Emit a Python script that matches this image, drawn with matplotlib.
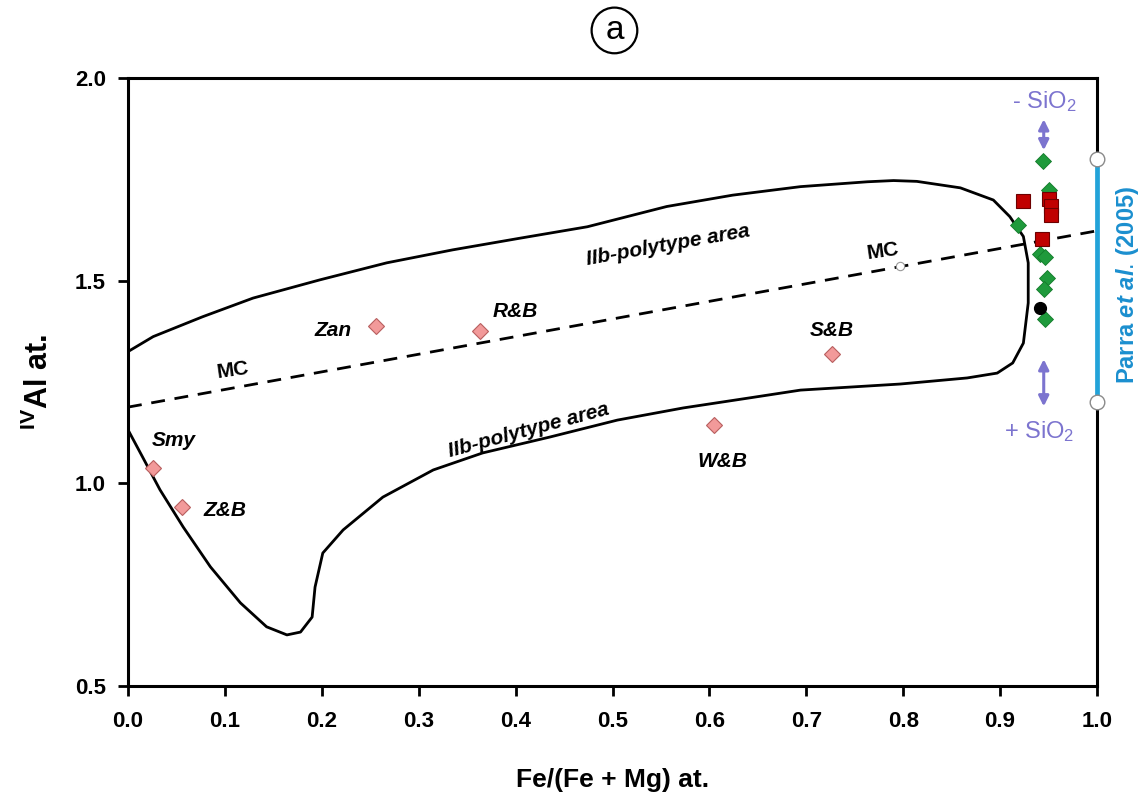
import numpy as np
import matplotlib
matplotlib.use("Agg")
import matplotlib.pyplot as plt

plt.rcParams["font.family"] = ["Liberation Sans", "DejaVu Sans"]
plt.rcParams["mathtext.fontset"] = "custom"
plt.rcParams["mathtext.rm"] = "Liberation Sans"
plt.rcParams["mathtext.bf"] = "Liberation Sans:bold"
plt.rcParams["mathtext.it"] = "Liberation Sans:bold:italic"

# IIb-polytype envelope (closed outline)
env_x = [0.0, 0.026, 0.077, 0.129, 0.198, 0.267, 0.335, 0.405, 0.474, 0.556,
         0.624, 0.694, 0.763, 0.790, 0.814, 0.859, 0.893, 0.910, 0.924, 0.929,
         0.929, 0.924, 0.913, 0.897, 0.866, 0.797, 0.694, 0.642, 0.573, 0.505,
         0.435, 0.366, 0.315, 0.263, 0.222, 0.201, 0.193, 0.190, 0.178, 0.164,
         0.143, 0.116, 0.085, 0.057, 0.033, 0.015, 0.0, 0.0]
env_y = [1.325, 1.362, 1.411, 1.457, 1.502, 1.544, 1.576, 1.605, 1.633, 1.683,
         1.711, 1.732, 1.744, 1.747, 1.745, 1.729, 1.699, 1.658, 1.609, 1.544,
         1.445, 1.346, 1.297, 1.272, 1.260, 1.245, 1.230, 1.211, 1.186, 1.156,
         1.114, 1.075, 1.033, 0.966, 0.885, 0.828, 0.744, 0.670, 0.633, 0.626,
         0.646, 0.705, 0.794, 0.892, 0.984, 1.065, 1.132, 1.325]

# MC line
mc_x = [0.0, 1.0]
mc_y = [1.188, 1.623]
mc_point = (0.797, 1.536)

# literature points
lit_names = ["Smy", "Z&B", "Zan", "R&B", "S&B", "W&B"]
lit_x = [0.026, 0.056, 0.256, 0.363, 0.726, 0.605]
lit_y = [1.038, 0.942, 1.388, 1.376, 1.319, 1.144]
lit_lab_x = [0.047, 0.100, 0.212, 0.400, 0.726, 0.613]
lit_lab_y = [1.106, 0.932, 1.376, 1.425, 1.376, 1.053]

# this study
green_x = [0.944, 0.950, 0.918, 0.941, 0.946, 0.948, 0.945, 0.946]
green_y = [1.795, 1.724, 1.637, 1.566, 1.559, 1.506, 1.480, 1.405]
red_x = [0.924, 0.950, 0.953, 0.953, 0.943]
red_y = [1.697, 1.702, 1.683, 1.662, 1.602]
black_x = [0.941]
black_y = [1.432]

# Parra et al. (2005) range
parra_x = [1.0, 1.0]
parra_y = [1.2, 1.8]

fig = plt.figure(figsize=(11.4, 8.01), dpi=100)
ax = fig.add_axes([0.1123, 0.1436, 0.8500, 0.7590])

ax.plot(env_x, env_y, color="black", lw=2.0, zorder=2, solid_joinstyle="round")
ax.plot(mc_x, mc_y, color="black", lw=2.0, dashes=(5, 3.5), zorder=2)
ax.plot(*mc_point, marker="o", ms=6, mfc="white", mec="#999999", mew=0.8, ls="none", zorder=3)

ax.plot(lit_x, lit_y, ls="none", marker="D", ms=8.5, mfc="#f29a9a", mec="#b85f5f", mew=0.8, zorder=4)
for name, lx, ly in zip(lit_names, lit_lab_x, lit_lab_y):
    ax.text(lx, ly, name, fontsize=15, fontweight="bold", fontstyle="italic",
            ha="center", va="center", zorder=5)

ax.plot(green_x, green_y, ls="none", marker="D", ms=8.5, mfc="#1f9a3c", mec="#137a2a", mew=0.6, zorder=4)
ax.plot(red_x, red_y, ls="none", marker="s", ms=10, mfc="#c00000", mec="#6d0000", mew=0.8, zorder=5)
ax.plot(black_x, black_y, ls="none", marker="o", ms=8.5, mfc="black", mec="black", zorder=5)

ax.plot(parra_x, parra_y, color="#22a3d9", lw=3.4, clip_on=False, zorder=6,
        solid_capstyle="butt")
ax.plot(parra_x, parra_y, ls="none", marker="o", ms=10.5, mfc="white", mec="#8a8a8a",
        mew=1.0, clip_on=False, zorder=7)
ax.text(1.031, 1.49, r"Parra $\mathit{et\ al.}\,$(2005)", rotation=90, color="#1b8fcf",
        fontsize=17, fontweight="bold", ha="center", va="center", clip_on=False)

# SiO2 arrows
purple = "#7c74cf"
ax.annotate("", xy=(0.945, 1.815), xytext=(0.945, 1.905),
            arrowprops=dict(arrowstyle="<|-|>", color=purple, lw=2.2, mutation_scale=15))
ax.annotate("", xy=(0.945, 1.183), xytext=(0.945, 1.313),
            arrowprops=dict(arrowstyle="<|-|>", color=purple, lw=2.2, mutation_scale=15))
ax.text(0.945, 1.942, "- SiO$_2$", color=purple, fontsize=17, ha="center", va="center")
ax.text(0.940, 1.128, "+ SiO$_2$", color=purple, fontsize=17, ha="center", va="center")

# region labels
ax.text(0.557, 1.588, "IIb-polytype area", fontsize=15, fontweight="bold", fontstyle="italic",
        rotation=10, ha="center", va="center")
ax.text(0.413, 1.130, "IIb-polytype area", fontsize=15, fontweight="bold", fontstyle="italic",
        rotation=15, ha="center", va="center")
ax.text(0.108, 1.28, "MC", fontsize=15, fontweight="bold", rotation=8, ha="center", va="center")
ax.text(0.779, 1.573, "MC", fontsize=15, fontweight="bold", rotation=8, ha="center", va="center")

ax.set_xlim(0, 1.0)
ax.set_ylim(0.5, 2.0)
ax.set_xticks(np.arange(0, 1.01, 0.1))
ax.set_yticks([0.5, 1.0, 1.5, 2.0])
ax.xaxis.set_major_formatter(matplotlib.ticker.FormatStrFormatter("%.1f"))
ax.yaxis.set_major_formatter(matplotlib.ticker.FormatStrFormatter("%.1f"))
ax.tick_params(direction="out", length=7, width=2.0, labelsize=16)
ax.tick_params(axis="x", pad=11)
ax.tick_params(axis="y", pad=9)
for lab in ax.get_xticklabels() + ax.get_yticklabels():
    lab.set_fontweight("bold")
for s in ax.spines.values():
    s.set_linewidth(2.2)

ax.set_xlabel("Fe/(Fe + Mg) at.", fontsize=19, fontweight="bold", labelpad=26)
ax.set_ylabel(r"$^{\mathbf{IV}}$Al at.", fontsize=22, fontweight="bold", labelpad=14)

fig.text(0.539, 0.962, "a", fontsize=24, ha="center", va="center",
         bbox=dict(boxstyle="circle,pad=0.22", fc="white", ec="black", lw=1.6))

fig.savefig("out.png", dpi=100)
